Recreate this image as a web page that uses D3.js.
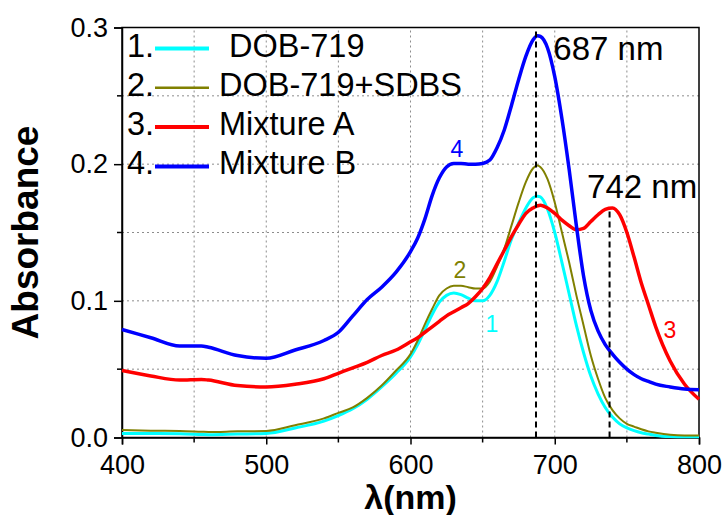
<!DOCTYPE html>
<html lang="en">
<head>
    <meta charset="UTF-8">
    <title>Absorbance spectra</title>
    <script src="https://d3js.org/d3.v7.min.js"></script>
    <style>
        body { margin: 0; background: #fff; }
        svg { display: block; font-family: "Liberation Sans", Arial, sans-serif; }
        .grid line { stroke: #8c8c8c; stroke-width: 1; stroke-dasharray: 2,3; }
        .tick-label { font-size: 27px; fill: #000; }
    </style>
</head>
<body>
    <svg id="chart" width="725" height="515"></svg>

    <script>
        // Wavelength grid (nm) shared by all spectra
        const wavelengths = [400, 420, 440, 455, 460, 480, 500, 520, 540, 550, 560, 570, 580, 590, 600, 605, 610, 615, 620, 625,
            630, 635, 640, 645, 650, 655, 660, 665, 670, 675, 680, 685, 688, 690, 695, 700, 705, 710, 715, 720,
            725, 730, 735, 740, 745, 750, 755, 760, 765, 770, 780, 790, 800];

        const dob719 = [0.003, 0.003, 0.0028, 0.0022, 0.002, 0.0025, 0.003, 0.007, 0.012, 0.016, 0.021, 0.028, 0.037, 0.047, 0.059, 0.068, 0.079, 0.090, 0.099, 0.104,
            0.1057, 0.1045, 0.102, 0.100, 0.100, 0.104, 0.114, 0.129, 0.145, 0.157, 0.168, 0.1755, 0.1765, 0.176, 0.167, 0.150, 0.128, 0.105, 0.082, 0.062,
            0.045, 0.032, 0.022, 0.015, 0.010, 0.007, 0.005, 0.0035, 0.0025, 0.0015, 0.0007, 0.0005, 0.0005];

        const dob719Sdbs = [0.0055, 0.005, 0.0048, 0.0042, 0.004, 0.0045, 0.0048, 0.009, 0.014, 0.018, 0.022, 0.029, 0.038, 0.049, 0.061, 0.071, 0.083, 0.094, 0.104, 0.109,
            0.111, 0.111, 0.110, 0.109, 0.109, 0.114, 0.125, 0.138, 0.155, 0.172, 0.187, 0.197, 0.199, 0.198, 0.189, 0.172, 0.150, 0.128, 0.104, 0.082,
            0.060, 0.043, 0.029, 0.020, 0.014, 0.010, 0.008, 0.006, 0.0045, 0.0035, 0.002, 0.0015, 0.0015];

        const mixtureA = [0.049, 0.045, 0.042, 0.0425, 0.042, 0.038, 0.037, 0.039, 0.043, 0.047, 0.051, 0.055, 0.060, 0.064, 0.070, 0.073, 0.077, 0.081, 0.085, 0.089,
            0.092, 0.095, 0.098, 0.103, 0.109, 0.117, 0.127, 0.137, 0.147, 0.156, 0.164, 0.168, 0.1695, 0.170, 0.168, 0.164, 0.159, 0.155, 0.152, 0.153,
            0.158, 0.163, 0.167, 0.168, 0.163, 0.150, 0.132, 0.113, 0.097, 0.081, 0.056, 0.039, 0.028];

        const mixtureB = [0.079, 0.073, 0.067, 0.067, 0.066, 0.060, 0.058, 0.064, 0.071, 0.077, 0.089, 0.101, 0.110, 0.121, 0.136, 0.146, 0.160, 0.177, 0.190, 0.198,
            0.2005, 0.2005, 0.200, 0.200, 0.2005, 0.203, 0.212, 0.225, 0.243, 0.262, 0.279, 0.291, 0.294, 0.2935, 0.285, 0.264, 0.233, 0.196, 0.155, 0.118,
            0.093, 0.078, 0.068, 0.061, 0.055, 0.050, 0.046, 0.043, 0.041, 0.039, 0.037, 0.0355, 0.035];

        const seriesNames = ["DOB-719", "DOB-719+SDBS", "Mixture A", "Mixture B"];
        const seriesNumbers = ["1.", "2.", "3.", "4."];
        const seriesColors = ["#00ffff", "#808000", "#ff0000", "#0000ff"];
        const seriesValues = [dob719, dob719Sdbs, mixtureA, mixtureB];

        const xTicks = [400, 500, 600, 700, 800];
        const xMinor = [450, 550, 650, 750];
        const yTicks = [0, 0.1, 0.2, 0.3];
        const yMinor = [0.05, 0.15, 0.25];

        // Peak markers: dashed line position, height it reaches, and its label
        const peakX = [687, 738];
        const peakTop = [0.3, 0.168];
        const peakLabels = ["687 nm", "742 nm"];

        // Curve number labels: [wavelength, absorbance]
        const curveLabelPos = [[656.5, 0.077], [634.3, 0.117], [779.9, 0.073], [632.2, 0.205]];

        const margin = { top: 27.5, right: 26, bottom: 77.5, left: 122 };
        const width = 725, height = 515;
        const svg = d3.select("#chart");

        const x = d3.scaleLinear().domain([400, 800]).range([margin.left, width - margin.right]);
        const y = d3.scaleLinear().domain([0, 0.3]).range([height - margin.bottom, margin.top]);

        // Grid
        const grid = svg.append("g").attr("class", "grid");
        grid.selectAll(".gx")
            .data([450, 500, 550, 600, 650, 700, 750])
            .enter().append("line")
            .attr("x1", d => x(d)).attr("x2", d => x(d))
            .attr("y1", y(0)).attr("y2", y(0.3));
        grid.selectAll(".gy")
            .data([0.05, 0.1, 0.15, 0.2, 0.25])
            .enter().append("line")
            .attr("x1", x(400)).attr("x2", x(800))
            .attr("y1", d => y(d)).attr("y2", d => y(d));

        // Frame
        svg.append("rect")
            .attr("x", x(400)).attr("y", y(0.3))
            .attr("width", x(800) - x(400)).attr("height", y(0) - y(0.3))
            .attr("fill", "none").attr("stroke", "#000").attr("stroke-width", 1.5);

        // Axes
        const xAxis = svg.append("g").attr("transform", `translate(0,${y(0)})`);
        xAxis.call(d3.axisBottom(x).tickValues(xTicks).tickSize(7).tickPadding(10).tickFormat(d3.format("d")));
        xAxis.append("g").selectAll("line").data(xMinor).enter().append("line")
            .attr("x1", d => x(d)).attr("x2", d => x(d)).attr("y1", 0).attr("y2", 5)
            .attr("stroke", "#000").attr("stroke-width", 1.5);

        const yAxis = svg.append("g").attr("transform", `translate(${x(400)},0)`);
        yAxis.call(d3.axisLeft(y).tickValues(yTicks).tickSize(8).tickPadding(6).tickFormat(d3.format(".1f")));
        yAxis.append("g").selectAll("line").data(yMinor).enter().append("line")
            .attr("x1", -5).attr("x2", 0).attr("y1", d => y(d)).attr("y2", d => y(d))
            .attr("stroke", "#000").attr("stroke-width", 1.5);

        svg.selectAll(".domain").attr("stroke", "#000").attr("stroke-width", 1.5);
        svg.selectAll(".tick line").attr("stroke", "#000").attr("stroke-width", 1.5);
        svg.selectAll(".tick text")
            .attr("class", "tick-label")
            .style("font-family", "'Liberation Sans', Arial, sans-serif")
            .style("font-size", "27px");

        // Axis titles
        svg.append("text")
            .attr("x", (x(400) + x(800)) / 2).attr("y", 509)
            .attr("text-anchor", "middle")
            .attr("font-size", "34px").attr("font-weight", "bold")
            .text("λ(nm)");
        svg.append("text")
            .attr("transform", `translate(38,${(y(0) + y(0.3)) / 2}) rotate(-90)`)
            .attr("text-anchor", "middle")
            .attr("font-size", "37px").attr("font-weight", "bold")
            .text("Absorbance");

        // Spectra
        const widths = [3, 2, 3.5, 3.5];
        const line = d3.line()
            .x((d, i) => x(wavelengths[i]))
            .y(d => y(d))
            .curve(d3.curveMonotoneX);

        svg.append("g").selectAll("path")
            .data(seriesValues)
            .enter().append("path")
            .attr("d", line)
            .attr("fill", "none")
            .attr("stroke", (d, i) => seriesColors[i])
            .attr("stroke-width", (d, i) => widths[i])
            .attr("stroke-linejoin", "round");

        // Dashed peak markers
        svg.append("g").selectAll("line")
            .data(peakX)
            .enter().append("line")
            .attr("x1", d => x(d)).attr("x2", d => x(d))
            .attr("y1", y(0)).attr("y2", (d, i) => y(peakTop[i]))
            .attr("stroke", "#000").attr("stroke-width", 2)
            .attr("stroke-dasharray", "6,4");

        svg.append("text").attr("x", x(699)).attr("y", y(0.276))
            .attr("font-size", "33px").text(peakLabels[0]);
        svg.append("text").attr("x", x(722.4)).attr("y", y(0.175))
            .attr("font-size", "33px").text(peakLabels[1]);

        // Curve numbers
        svg.append("g").selectAll("text")
            .data(curveLabelPos)
            .enter().append("text")
            .attr("x", d => x(d[0])).attr("y", d => y(d[1]))
            .attr("text-anchor", "middle")
            .attr("font-size", "23px")
            .attr("fill", (d, i) => seriesColors[i])
            .text((d, i) => i + 1);

        // Legend
        const legend = svg.append("g");
        const rows = legend.selectAll("g")
            .data(seriesNames)
            .enter().append("g")
            .attr("transform", (d, i) => `translate(0,${48.5 + i * 39.3})`);
        rows.append("text")
            .attr("x", 127).attr("y", 8)
            .attr("font-size", "32.5px")
            .text((d, i) => seriesNumbers[i]);
        rows.append("line")
            .attr("x1", 155).attr("x2", 209)
            .attr("stroke", (d, i) => seriesColors[i])
            .attr("stroke-width", (d, i) => i === 1 ? 2.5 : 4);
        rows.append("text")
            .attr("x", (d, i) => i === 0 ? 229 : 219).attr("y", 8)
            .attr("font-size", "32.5px")
            .text(d => d);
    </script>
</body>
</html>
